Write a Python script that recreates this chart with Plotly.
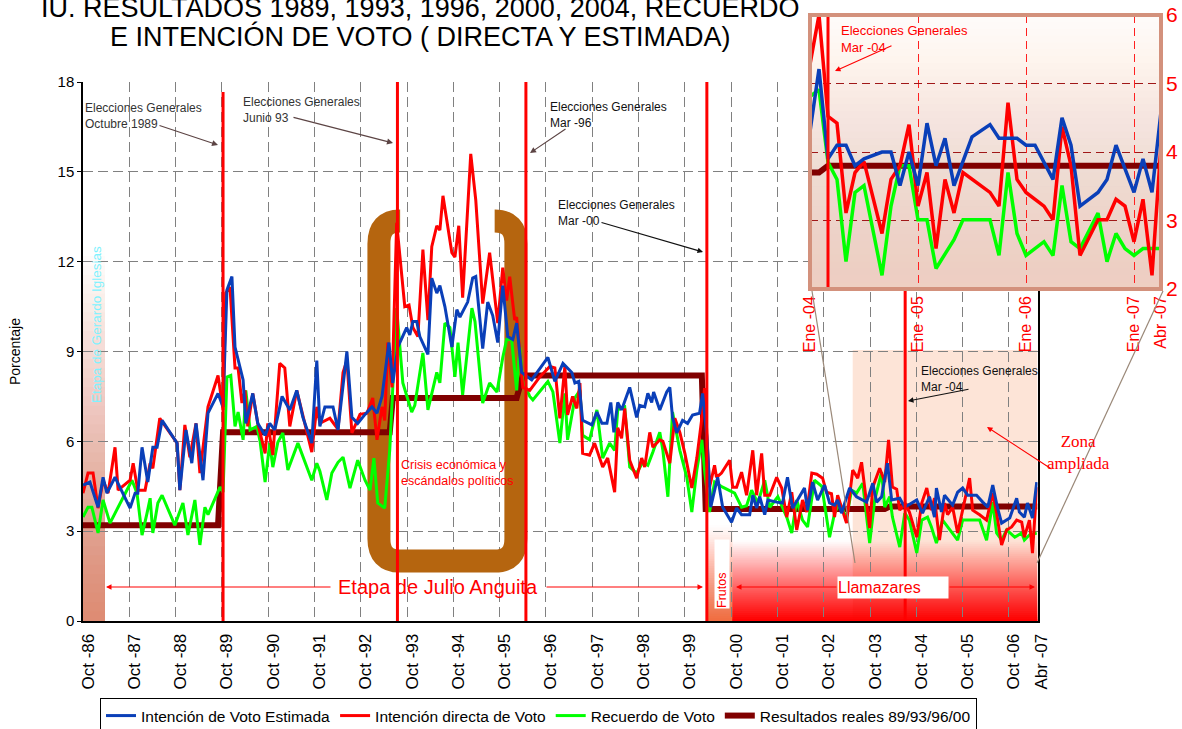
import plotly.graph_objects as go

W, H = 1182, 729
SANS = "Liberation Sans, Arial, sans-serif"
SERIF = "Liberation Serif, Times New Roman, serif"

# ---------------- DATA (meses contados desde Oct-86) ----------------
meses_estimada = [0.0,1.8,3.9,5.2,6.2,8.3,12.2,13.5,14.2,15.3,
    16.8,18.1,19.2,20.5,24.4,25.1,26.7,28.2,29.3,31.1,
    32.4,35.0,36.3,37.3,38.6,39.4,41.5,42.2,44.0,45.3,
    47.2,48.4,49.7,51.6,53.6,55.4,57.0,59.3,60.6,61.4,
    62.7,64.8,66.1,68.4,69.7,71.2,73.1,74.9,76.2,77.5,
    79.3,80.3,81.6,83.9,84.7,85.5,86.5,87.3,89.4,90.4,
    91.7,92.5,93.8,95.6,96.9,97.7,99.7,101.0,101.8,103.6,
    104.9,106.2,107.5,108.8,110.1,111.4,112.4,113.7,116.3,120.5,
    122.3,124.4,126.7,127.5,128.5,129.5,131.9,133.2,134.5,135.8,
    136.8,137.6,138.6,139.6,141.7,143.5,144.3,145.6,146.4,147.4,
    147.9,149.5,151.3,152.1,152.8,153.9,155.4,156.7,158.0,159.8,
    160.6,161.7,162.7,164.5,165.8,168.1,169.4,170.7,172.8,173.6,
    174.6,175.4,176.7,177.5,179.8,181.3,182.6,183.9,185.2,187.0,
    187.8,189.1,190.4,192.2,193.5,194.8,195.6,196.6,198.7,200.5,
    203.1,204.7,205.7,207.0,208.5,209.6,211.7,213.0,216.1,217.6,
    219.4,220.7,221.2,222.5,223.3,225.4,226.7,228.0,229.3,231.6,
    233.2,234.5,235.8,237.0,238.1,240.2,242.0,242.7,244.0,244.8,
    246.1,247.2]
estimada = [4.54,4.64,3.8,4.8,4.27,4.8,3.77,4.27,4.27,5.8,
    4.64,5.8,5.8,6.7,5.94,4.37,6.38,5.27,6.6,4.7,
    6.94,7.6,7.15,11.05,11.5,9.15,8.05,6.6,7.6,6.6,
    6.2,6.6,6.38,7.5,7.05,7.7,6.8,5.94,8.7,6.5,
    7.15,7.15,6.38,9.0,6.8,6.6,6.9,7.15,6.94,7.5,
    9.3,7.95,9.15,9.8,9.55,10.0,10.0,9.5,8.9,11.45,
    10.95,11.2,10.5,9.15,10.4,10.15,10.65,11.45,11.5,9.1,
    10.65,10.2,9.3,11.2,9.5,9.4,9.95,8.3,8.05,8.8,
    8.0,8.6,8.3,7.95,8.0,6.7,6.55,6.98,6.6,6.6,
    7.3,6.3,7.3,7.05,7.8,6.8,7.2,7.15,7.6,7.3,
    7.65,7.05,7.65,7.8,6.8,6.28,6.7,6.6,6.88,6.94,
    7.6,6.15,3.8,4.8,3.8,3.3,3.77,3.55,3.55,4.2,
    3.77,4.15,3.55,4.04,3.97,3.94,4.8,3.77,4.04,4.44,
    3.7,4.64,4.04,4.54,3.94,3.87,4.04,3.6,4.44,4.15,
    3.97,4.6,3.97,4.15,5.27,4.04,4.1,3.8,4.04,3.6,
    4.15,3.47,4.44,3.64,4.2,3.87,4.3,4.44,4.2,4.2,
    3.97,3.8,4.54,3.8,3.27,3.44,4.1,3.64,3.47,3.94,
    3.44,4.64]

meses_directa = [0.0,1.3,2.6,3.9,5.2,6.5,8.3,9.1,12.2,13.0,
    14.2,16.1,17.4,18.1,19.9,24.4,25.1,26.4,27.7,29.3,
    30.3,32.4,35.0,36.3,37.0,38.1,39.4,40.2,41.2,42.0,
    42.7,44.0,45.3,47.2,47.9,49.2,51.0,52.3,53.6,55.4,
    59.3,60.6,61.4,64.0,66.1,67.4,68.4,69.7,71.8,73.6,
    75.1,76.2,77.5,78.2,79.0,80.1,81.3,82.6,83.4,84.5,
    85.5,86.8,88.1,89.4,90.4,91.7,92.5,93.3,95.6,96.4,
    97.4,98.4,100.5,101.8,103.6,105.4,107.5,108.8,109.8,110.6,
    111.9,112.4,114.0,115.8,118.4,121.0,122.3,123.6,124.9,125.6,
    126.9,128.0,128.8,129.5,131.3,132.6,133.9,134.7,136.0,137.8,
    138.6,139.6,140.4,141.7,143.5,144.8,145.6,146.9,147.7,149.5,
    150.3,152.1,153.4,154.7,156.0,157.8,159.1,160.4,161.1,162.4,
    163.7,164.2,165.5,167.6,168.4,169.4,170.7,172.0,173.6,174.6,
    175.9,176.7,178.0,179.8,181.1,182.4,183.7,185.0,186.5,187.6,
    188.9,190.2,191.7,192.7,194.0,194.8,195.6,196.6,197.9,199.5,
    200.8,201.8,202.6,203.9,204.7,206.5,207.8,208.8,209.8,210.9,
    211.7,213.0,214.2,216.1,217.4,218.7,219.9,220.7,222.0,223.3,
    224.1,225.4,226.7,228.0,229.8,230.6,232.4,234.2,235.8,236.8,
    238.1,239.4,240.7,242.0,243.3,244.0,245.3,246.1,247.2]
directa = [4.27,4.94,4.94,3.77,4.7,4.27,5.8,4.37,4.7,5.27,
    4.37,4.37,5.27,5.1,6.77,5.94,4.37,6.55,5.47,6.6,
    4.94,7.15,8.2,7.05,10.95,11.15,8.45,8.45,7.28,7.7,
    6.5,7.6,6.6,5.6,6.6,5.54,8.6,8.45,6.5,7.7,
    5.64,7.15,6.6,6.77,6.4,8.3,8.7,6.28,6.9,6.94,
    7.45,6.05,7.15,6.7,9.3,7.8,13.3,11.5,10.5,10.55,
    9.8,9.5,12.4,10.05,12.5,13.2,13.05,14.2,12.3,12.15,
    13.2,10.8,15.6,14.06,10.6,12.3,9.95,11.8,10.7,11.5,
    10.05,10.15,7.8,7.7,8.15,8.5,8.45,6.77,8.5,6.88,
    7.5,7.1,7.95,5.6,5.54,5.94,5.47,5.14,5.44,4.3,
    6.45,6.1,7.1,5.37,4.77,5.44,5.14,6.3,5.8,6.05,
    6.0,5.27,6.77,6.3,5.6,4.44,5.44,6.77,7.78,4.47,
    5.2,4.8,4.94,5.37,4.47,4.47,4.97,4.2,5.7,4.2,
    5.6,4.2,4.2,4.8,4.44,3.47,4.3,3.04,4.04,3.64,
    4.94,4.9,4.77,4.3,4.25,3.47,4.2,3.8,3.27,5.04,
    4.77,5.3,4.47,3.1,4.47,5.1,4.64,6.05,4.47,4.4,
    3.7,3.94,3.64,2.8,3.94,4.44,3.7,4.1,2.7,3.94,
    3.55,3.8,2.94,3.7,4.77,3.7,3.55,3.37,4.27,3.6,
    2.54,3.04,3.14,3.37,3.3,2.8,3.37,2.27,4.47]

meses_recuerdo = [0.0,1.3,2.3,3.9,5.2,7.0,9.1,12.7,14.0,15.3,
    16.6,17.4,18.1,19.4,20.5,23.8,25.9,27.2,29.0,30.3,
    31.6,32.4,35.5,36.3,37.3,38.3,39.4,40.2,41.5,42.2,
    43.3,45.1,45.9,47.2,48.4,49.2,50.5,51.8,53.1,55.7,
    59.3,60.6,61.4,63.2,64.5,66.1,67.4,69.2,71.2,73.1,
    74.4,75.4,76.4,78.2,79.5,81.3,82.9,85.2,86.0,88.1,
    89.4,91.7,92.5,93.8,95.1,96.4,97.2,98.4,100.8,101.6,
    103.6,105.4,107.3,108.8,109.8,111.1,112.4,113.2,114.0,115.8,
    116.6,120.5,121.8,123.6,124.9,125.6,127.5,128.8,129.5,131.3,
    133.2,134.7,136.5,137.8,138.6,140.4,141.7,143.5,145.1,146.4,
    147.7,149.5,150.3,151.6,152.8,154.7,156.5,157.8,159.1,160.4,
    161.1,162.4,163.7,165.8,168.9,170.7,172.0,173.3,174.9,176.7,
    178.0,180.1,182.4,183.7,185.0,186.5,187.8,189.6,191.5,193.5,
    194.8,196.1,197.9,199.2,200.5,202.1,203.9,205.2,207.0,207.8,
    209.1,209.8,211.7,213.0,214.2,216.1,217.4,218.9,219.9,221.2,
    222.8,224.1,226.7,228.0,229.8,232.4,234.2,235.8,236.8,238.1,
    239.4,240.2,241.5,243.3,244.0,245.3,247.2]
recuerdo = [3.47,3.8,3.8,2.94,4.04,3.27,3.8,4.7,4.27,2.87,
    3.6,4.1,2.94,3.94,4.2,3.2,3.94,2.87,4.04,2.54,
    3.8,3.55,4.47,4.3,8.15,8.2,6.5,6.98,6.05,7.7,
    6.38,6.5,6.0,4.64,5.94,5.14,5.97,6.28,5.04,5.94,
    4.7,5.27,5.0,4.04,4.94,5.3,5.47,4.44,5.37,4.7,
    4.37,5.44,3.94,3.77,5.7,10.45,7.95,6.98,7.2,8.95,
    7.05,8.3,7.95,9.95,9.8,8.15,9.3,7.55,10.45,10.0,
    7.28,7.95,7.65,8.8,9.4,9.4,7.7,9.15,8.0,7.5,
    7.38,8.0,7.65,5.94,7.6,6.05,7.45,7.7,6.2,6.05,
    7.05,5.44,5.94,5.7,7.05,7.15,5.14,4.94,5.3,5.2,
    5.64,6.3,5.7,4.15,6.98,5.7,4.8,3.64,5.04,6.05,
    5.04,3.64,4.64,4.47,4.27,3.8,3.85,4.37,3.94,4.7,
    3.8,4.15,3.47,2.94,4.04,3.37,3.14,4.7,4.5,2.8,
    3.6,3.94,3.44,4.37,4.27,4.6,2.6,4.04,4.97,3.8,
    4.15,3.47,2.47,3.6,3.37,2.27,3.37,3.47,3.14,2.6,
    3.37,3.14,2.7,3.37,3.37,3.37,2.7,3.97,2.94,2.7,
    3.04,2.94,2.8,2.94,2.7,2.87,2.94]

meses_resultados = [0.0,35.0,36.3,79.5,80.3,112.4,114.0,160.4,161.4,207.8,209.1,247.4]
resultados = [3.2,3.2,6.3,6.3,7.45,7.45,8.2,8.2,3.74,3.74,3.82,3.82]

elecciones_meses = [36.3, 81.5, 114.8, 161.7, 213.1]
elecciones_tope = [17.67, 18, 18, 18, 18]

tick_meses = [0,12,24,36,48,60,72,84,96,108,120,132,144,156,168,180,192,204,216,228,240,247.2]
tick_textos = ["Oct -86","Oct -87","Oct -88","Oct -89","Oct -90","Oct -91","Oct -92",
               "Oct -93","Oct -94","Oct -95","Oct -96","Oct -97","Oct -98","Oct -99",
               "Oct -00","Oct -01","Oct -02","Oct -03","Oct -04","Oct -05","Oct -06","Abr -07"]

# zona ampliada (meses desde Ene-04)
ins_meses_est = [0,1,2,3,4,5,6,8,9,10,11,12,13,14,15,16,18,20,21,23,24,25,27,28,29,30,32,33,34,36,37,38,39]
ins_est = [4.30,5.21,3.90,4.10,4.10,3.80,3.90,4.0,4.0,3.51,4.0,3.51,4.42,3.80,4.20,3.51,4.22,
           4.40,4.20,4.20,4.10,4.10,3.60,4.50,4.10,3.21,3.41,3.60,4.10,3.41,3.90,3.41,4.59]
ins_meses_dir = [0,1,2,3,4,5,6,8,9,10,11,12,13,14,15,16,17,20,21,22,23,24,26,27,28,29,30,32,33,34,35,36,37,38,39]
ins_dir = [5.28,6.0,4.52,4.42,3.11,3.70,3.86,2.81,3.60,3.80,4.40,3.21,3.70,2.59,3.60,3.11,3.70,
           3.41,3.21,4.72,3.60,3.41,3.21,3.01,4.37,3.80,2.49,3.01,3.01,3.31,3.21,2.69,3.31,2.20,4.1]
ins_meses_rec = [0,1,2,3,4,5,6,8,9,10,11,12,13,14,16,17,20,21,22,23,24,26,27,28,29,30,32,33,34,35,36,37,38,39]
ins_rec = [4.81,4.91,3.85,3.60,2.40,3.41,3.51,2.20,3.21,3.80,3.80,3.01,3.01,2.30,2.72,3.01,
           3.01,2.49,3.70,2.81,2.49,2.69,2.49,3.51,2.69,2.59,3.11,2.40,2.81,2.59,2.49,2.59,2.59,2.59]
ins_meses_res = [0,1.0,2.0,39.3]
ins_res = [3.7,3.7,3.8,3.8]
ins_tick_meses = [0,12,24,36,39]
ins_tick_textos = ["Ene -04","Ene -05","Ene -06","Ene -07","Abr -07"]

# ---------------- helpers (layout only) ----------------
def PX(x): return x / W
def PY(y): return 1 - y / H

def grad(xref, yref, x0, x1, y0, y1, rgb, a_top, a_bot, n=40, layer="below"):
    """Stacked bottom-anchored bands producing a vertical linear gradient."""
    out = []
    prev = 0.0
    for j in range(1, n + 1):
        A = a_top + (a_bot - a_top) * (j - 0.5) / n
        A = min(A, 0.999)
        a = 1 - (1 - A) / (1 - prev) if prev < 1 else 0
        a = max(0.0, min(1.0, a))
        prev = A
        top = y1 - (y1 - y0) * (j - 1) / n
        out.append(dict(type="rect", xref=xref, yref=yref, x0=x0, x1=x1, y0=y0, y1=top,
                        fillcolor=f"rgba({rgb},{a:.4f})", line_width=0, layer=layer))
    return out

def txt(x, y, s, size, color="black", xanchor="left", yanchor="middle", family=SANS,
        angle=0, bg=None, w=None, h=None, align="left"):
    d = dict(x=PX(x), y=PY(y), xref="paper", yref="paper", text=s, showarrow=False,
             xanchor=xanchor, yanchor=yanchor, align=align, textangle=angle,
             font=dict(size=size, color=color, family=family), borderpad=0)
    if bg: d["bgcolor"] = bg
    if w: d["width"] = w
    if h: d["height"] = h
    return d

def arrow(hx, hy, tx, ty, color, width=1.0, size=1.0, head=2):
    return dict(x=PX(hx), y=PY(hy), xref="paper", yref="paper", ax=tx - hx, ay=ty - hy,
                axref="pixel", ayref="pixel", text="", showarrow=True, arrowhead=head,
                arrowsize=size, arrowwidth=width, arrowcolor=color, standoff=0, startstandoff=0)

fig = go.Figure()

BLUE, RED, GREEN, DRED = "#0a3fb8", "#ff0000", "#00ff00", "#800000"

# main traces
fig.add_trace(go.Scatter(x=meses_resultados, y=resultados, mode="lines", name="Resultados reales 89/93/96/00",
                         line=dict(color=DRED, width=6), legendrank=4))
fig.add_trace(go.Scatter(x=meses_recuerdo, y=recuerdo, mode="lines", name="Recuerdo de Voto",
                         line=dict(color=GREEN, width=3), legendrank=3))
fig.add_trace(go.Scatter(x=meses_directa, y=directa, mode="lines", name="Intención directa de Voto",
                         line=dict(color=RED, width=3), legendrank=2))
fig.add_trace(go.Scatter(x=meses_estimada, y=estimada, mode="lines", name="Intención de Voto Estimada",
                         line=dict(color=BLUE, width=3), legendrank=1))
for m, t in zip(elecciones_meses, elecciones_tope):
    fig.add_trace(go.Scatter(x=[m, m], y=[0, t], mode="lines", showlegend=False,
                             line=dict(color=RED, width=3), hoverinfo="skip"))

# inset traces
fig.add_trace(go.Scatter(x=ins_meses_res, y=ins_res, mode="lines", showlegend=False,
                         line=dict(color=DRED, width=6), xaxis="x2", yaxis="y2"))
fig.add_trace(go.Scatter(x=ins_meses_rec, y=ins_rec, mode="lines", showlegend=False,
                         line=dict(color=GREEN, width=3.5), xaxis="x2", yaxis="y2"))
fig.add_trace(go.Scatter(x=ins_meses_dir, y=ins_dir, mode="lines", showlegend=False,
                         line=dict(color=RED, width=3.5), xaxis="x2", yaxis="y2"))
fig.add_trace(go.Scatter(x=ins_meses_est, y=ins_est, mode="lines", showlegend=False,
                         line=dict(color=BLUE, width=3.5), xaxis="x2", yaxis="y2"))
fig.add_trace(go.Scatter(x=[2, 2], y=[2, 6], mode="lines", showlegend=False,
                         line=dict(color=RED, width=3), xaxis="x2", yaxis="y2"))

# ---------------- shapes ----------------
shapes = []
shapes.append(dict(type="rect", xref="x", yref="y", x0=199.5, x1=247.4, y0=0, y1=9.05,
                   fillcolor="#fde4d7", line_width=0, layer="below"))
shapes += grad("x", "y", 0, 5.7, 0, 12.5, "222,140,116", 0.0, 1.0)
shapes += grad("x", "y", 161.7, 168.4, 0, 3.2, "242,110,64", 0.0, 1.0)
shapes += grad("x", "y", 168.4, 247.4, 0, 2.7, "255,0,0", 0.0, 1.0)
shapes += grad("x2", "y2", 0, 39, 2, 6, "239,207,194", 0.08, 1.0)
shapes.append(dict(type="path", xref="x", yref="y", layer="between",
                   path="M 82.2,13.36 Q 76.7,13.36 76.7,12.6 L 76.7,2.75 Q 76.7,2.0 82.2,2.0 "
                        "L 106.7,2.0 Q 112.2,2.0 112.2,2.75 L 112.2,12.6 Q 112.2,13.36 106.7,13.36",
                   line=dict(color="#b5650f", width=23), fillcolor="rgba(0,0,0,0)"))
shapes.append(dict(type="rect", xref="paper", yref="paper", x0=PX(810), x1=PX(1161),
                   y0=PY(289), y1=PY(15), line=dict(color="#d3917c", width=4), layer="above"))
shapes.append(dict(type="line", xref="paper", yref="paper", x0=PX(812), y0=PY(291), x1=PX(855), y1=PY(563),
                   line=dict(color="#9a8878", width=1.2), layer="above"))
shapes.append(dict(type="line", xref="paper", yref="paper", x0=PX(1163), y0=PY(291), x1=PX(1037), y1=PY(563),
                   line=dict(color="#9a8878", width=1.2), layer="above"))

# ---------------- annotations ----------------
ann = []
ann.append(txt(420, 8, "IU. RESULTADOS 1989, 1993, 1996, 2000, 2004, RECUERDO", 27, xanchor="center"))
ann.append(txt(420, 37, "E INTENCIÓN DE VOTO ( DIRECTA Y ESTIMADA)", 27, xanchor="center"))
ann.append(txt(15, 352, "Porcentaje", 14, xanchor="center", angle=-90))

ann.append(txt(84, 116, "Elecciones Generales<br>Octubre 1989", 12, color="#333333"))
ann.append(arrow(218, 145, 158, 125, "#5c4444", 1.2))
ann.append(txt(242, 110, "Elecciones Generales<br>Junio 93", 12, color="#333333"))
ann.append(arrow(393, 143, 292, 117, "#5c4444", 1.2))
ann.append(txt(549, 115, "Elecciones Generales<br>Mar -96", 12, color="#111111"))
ann.append(arrow(530, 153, 567, 128, "#5c4444", 1.2))
ann.append(txt(557, 213, "Elecciones Generales<br>Mar -00", 12, color="#111111"))
ann.append(arrow(703, 252, 600, 222, "#111111", 1.1))
ann.append(txt(920, 379, "Elecciones Generales<br>Mar -04", 12, color="#111111"))
ann.append(arrow(908, 401, 970, 389, "#111111", 1.1))
ann.append(txt(840, 39, "Elecciones Generales<br>Mar -04", 13, color=RED))
ann.append(arrow(835, 71, 893, 45, RED, 1.1))
ann.append(txt(1078, 452, "Zona<br>ampliada", 17, color=RED, xanchor="center", family=SERIF, align="center"))
ann.append(arrow(987, 427, 1053, 470, RED, 1.1))
ann.append(txt(400, 473, "Crisis económica y<br>escándalos políticos", 12.5, color=RED))
ann.append(txt(97, 325, "Etapa de Gerardo Iglesias", 13.5, color="#7ff2ff", xanchor="center", angle=-90))

ann.append(txt(438, 587, "Etapa de Julio Anguita", 20, color=RED, xanchor="center"))
ann.append(arrow(106, 587, 332, 587, RED, 1.1))
ann.append(arrow(703, 587, 545, 587, RED, 1.1))
ann.append(txt(722, 574, "Frutos", 12.5, color=RED, xanchor="center", angle=-90, bg="white", w=68, h=14))
ann.append(txt(893, 587, "Llamazares", 16, color=RED, xanchor="center", bg="white", w=110, h=21))
ann.append(arrow(736, 587, 838, 587, RED, 1.1))
ann.append(arrow(1035, 587, 948, 587, RED, 1.1))

GRID_DASH = "10px,5px"
fig.update_layout(
    width=W, height=H,
    margin=dict(l=0, r=0, t=0, b=0, autoexpand=False),
    paper_bgcolor="white", plot_bgcolor="white",
    font=dict(family=SANS, color="black"),
    showlegend=True,
    legend=dict(orientation="h", x=PX(100), y=PY(698), xanchor="left", yanchor="top",
                bordercolor="black", borderwidth=1, bgcolor="white",
                font=dict(size=15.5, family=SANS), itemwidth=30, tracegroupgap=0),
    xaxis=dict(domain=[PX(83), PX(1037.5)], range=[0, 247.4], anchor="y", automargin=False,
               tickmode="array", tickvals=tick_meses, ticktext=tick_textos, tickangle=-90,
               tickfont=dict(size=17, family=SANS, color="black"), ticks="",
               showgrid=True, gridcolor="#808080", gridwidth=1, griddash=GRID_DASH,
               showline=True, linecolor="black", linewidth=2, zeroline=False,
               ticklabelshift=5, ticklabelstandoff=4),
    yaxis=dict(domain=[PY(621), PY(82)], range=[0, 18], anchor="x", automargin=False,
               tickmode="array", tickvals=[0, 3, 6, 9, 12, 15, 18],
               tickfont=dict(size=15, family=SANS, color="black"),
               ticks="outside", ticklen=4, tickcolor="black",
               showgrid=True, gridcolor="#808080", gridwidth=1, griddash=GRID_DASH,
               showline=True, linecolor="black", linewidth=1.5, mirror=True, zeroline=False),
    xaxis2=dict(domain=[PX(810), PX(1161)], range=[0, 39], anchor="y2", automargin=False,
                tickmode="array", tickvals=ins_tick_meses, ticktext=ins_tick_textos, tickangle=-90,
                tickfont=dict(size=16, family=SANS, color=RED), ticks="",
                showgrid=True, gridcolor="#ff2020", gridwidth=1, griddash="8px,5px",
                showline=False, zeroline=False, ticklabelstandoff=3),
    yaxis2=dict(domain=[PY(289), PY(15)], range=[2, 6], anchor="x2", side="right", automargin=False,
                tickmode="array", tickvals=[2, 3, 4, 5, 6],
                tickfont=dict(size=21, family=SANS, color=RED), ticks="",
                showgrid=True, gridcolor="#a01818", gridwidth=1, griddash="8px,5px",
                showline=False, zeroline=False, ticklabelstandoff=4),
    shapes=shapes,
    annotations=ann,
)

fig.write_html("out.html", config={"displayModeBar": False},
               post_script="document.body.style.margin='0';document.body.style.padding='0';")
